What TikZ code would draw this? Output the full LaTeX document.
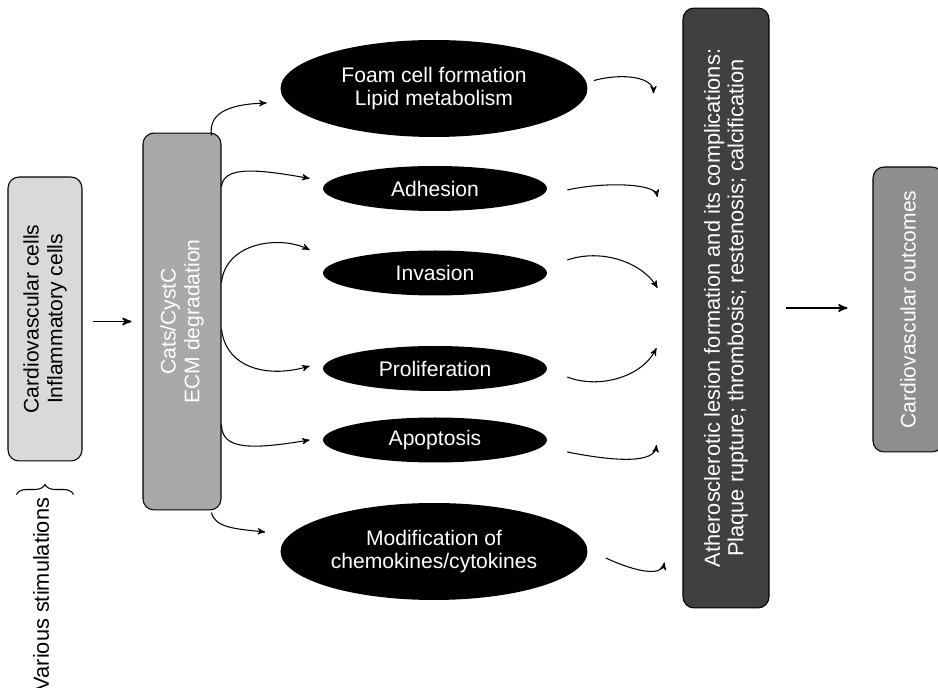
\documentclass[tikz,border=0pt]{standalone}
\usepackage{fontspec}
\setmainfont{Liberation Sans}
\usetikzlibrary{arrows}
\usetikzlibrary{calc}
\usetikzlibrary{decorations.pathreplacing}
\usetikzlibrary{shapes}
\definecolor{cellgray}{HTML}{D9D9D9}
\definecolor{catsgray}{HTML}{A9A9A9}
\definecolor{lesiongray}{HTML}{404040}
\definecolor{outcomegray}{HTML}{8E8E8E}
\tikzset{
  every node/.style={font=\fontsize{12}{13.5}\selectfont},
  box/.style={draw=black, line width=0.6pt, rounded corners=0.22cm,
    rotate=90, align=center, inner sep=0},
  blob/.style={ellipse, fill=black, text=white, align=center, inner sep=0},
  arrow/.style={->,>=stealth', line width=0.9pt},
  link/.style={->,>=stealth', line width=0.6pt}
}
\begin{document}
\begin{tikzpicture}[x=0.02cm, y=-0.02cm]
  \useasboundingbox (0,0) rectangle (938,688);
  \node[box, fill=cellgray, minimum width=5.68cm, minimum height=1.48cm] (b1) at (45,319)
    {Cardiovascular cells\\Inflammatory cells};
  \node[box, fill=catsgray, text=white, minimum width=7.54cm, minimum height=1.56cm] (b2) at (182,321.5)
    {Cats/CystC\\ECM degradation};
  \node[box, fill=lesiongray, text=white, minimum width=12cm, minimum height=1.72cm,
    font=\fontsize{12.4}{13.5}\selectfont] (b3) at (726,308)
    {Atherosclerotic lesion formation and its complications:\\Plaque rupture; thrombosis; restenosis; calcification};
  \node[box, fill=outcomegray, text=white, minimum width=5.7cm, minimum height=1.4cm] (b4) at (908,309.5)
    {Cardiovascular outcomes};
  \node[rotate=90, anchor=east, inner sep=0, font=\fontsize{12.4}{13.5}\selectfont] (stim)
    at ($(b1.north west)!0.5!(b1.south west)+(-4,36)$) {Various stimulations};

  \node[blob, minimum width=6.14cm, minimum height=1.94cm] (foam) at (434,88.5) {Foam cell formation\\Lipid metabolism};
  \node[blob, minimum width=4.48cm, minimum height=0.9cm] (adh) at (435,188.5) {Adhesion};
  \node[blob, minimum width=4.48cm, minimum height=0.9cm] (inv) at (435,273) {Invasion};
  \node[blob, minimum width=4.48cm, minimum height=0.9cm] (prol) at (435,368.5) {Proliferation};
  \node[blob, minimum width=4.48cm, minimum height=0.9cm] (apop) at (435,440) {Apoptosis};
  \node[blob, minimum width=6.14cm, minimum height=1.94cm] (mod) at (434,551.5) {Modification of\\chemokines/cytokines};

  \draw[decorate, decoration={brace, amplitude=0.2cm}, line width=0.6pt]
    ($(b1.north west)+(9,33)$) -- ($(b1.south west)+(-9,33)$);
  \draw[arrow] ($(b1.south |- b2.north)+(10,0)$) -- ($(b2.north)+(-11,0)$);
  \draw[arrow] ($(b3.south)+(16,0)$) -- ($(b3.south -| b4.north)+(-25,0)$);

  \draw[link] ($(b2.south east)+(-10,3)$) .. controls +(-4,-26) and +(-30,1) .. ($(foam.west)+(-13.5,14.5)$);
  \draw[link] ($(b2.south east)+(0,54)$) .. controls +(2,-20) and +(-55,-10) .. ($(adh.west)+(-13,-10)$);
  \draw[link] ($(b2.south east)+(0,150)$) .. controls +(4,-40) and +(-30,-15) .. ($(inv.west)+(-13,-23)$);
  \draw[link] ($(b2.south east)+(0,197)$) .. controls +(5,40) and +(-40,12) .. ($(prol.west)+(-13,-2.5)$);
  \draw[link] ($(b2.south east)+(0,292)$) .. controls +(0,25) and +(-60,10) .. ($(apop.west)+(-13,0)$);
  \draw[link] ($(b2.south west)+(-10,2)$) .. controls +(3,15) and +(-30,-3) .. ($(mod.west)+(-15,-19.5)$);

  \draw[link] ($(foam.east)+(6,-8)$) .. controls +(30,-8) and +(0,-16) .. ($(foam.east -| b3.north)+(-29,5)$);
  \draw[link] ($(adh.east)+(20,1.5)$) .. controls +(35,-8) and +(-3,-14) .. ($(adh.east -| b3.north)+(-25,8.5)$);
  \draw[link] ($(inv.east)+(20,-13)$) .. controls +(35,-12) and +(-15,-25) .. ($(inv.east -| b3.north)+(-25,15)$);
  \draw[link] ($(prol.east)+(20,8.5)$) .. controls +(30,12) and +(-15,30) .. ($(prol.east -| b3.north)+(-26,-20.5)$);
  \draw[link] ($(apop.east)+(20,12)$) .. controls +(50,10) and +(-2,18) .. ($(apop.east -| b3.north)+(-26,5)$);
  \draw[link] ($(mod.east)+(18,6.5)$) .. controls +(30,14) and +(-3,14) .. ($(mod.east -| b3.north)+(-18,11)$);
\end{tikzpicture}
\end{document}
